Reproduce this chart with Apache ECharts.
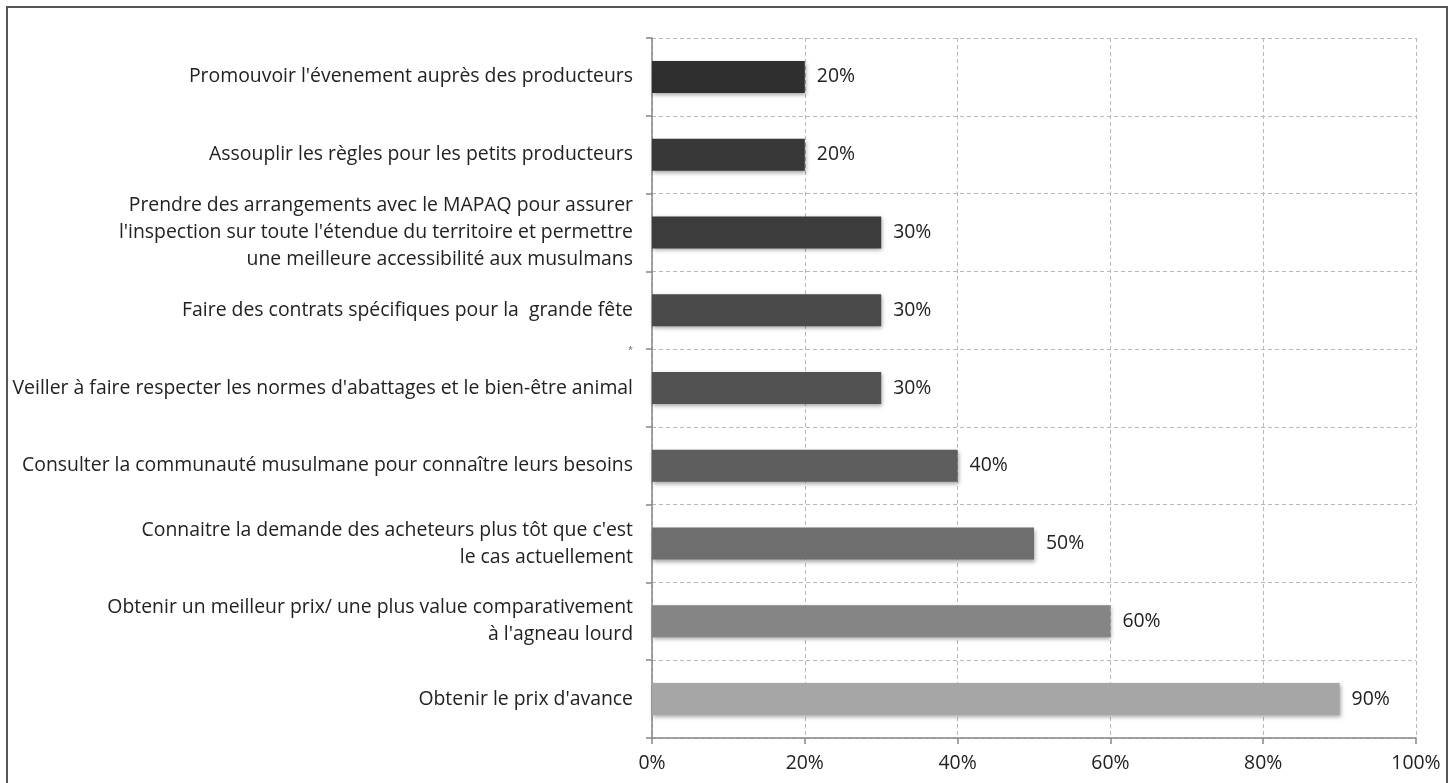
<!DOCTYPE html>
<html>
<head>
<meta charset="utf-8">
<script src="https://cdn.jsdelivr.net/npm/echarts@6/dist/echarts.min.js"></script>
<style>
  html, body { margin: 0; padding: 0; background: #fff; }
  #chart { width: 1453px; height: 783px; }
</style>
</head>
<body>
<div id="chart"></div>
<script>
const categories = [
  "Promouvoir l'évenement auprès des producteurs",
  "Assouplir les règles pour les petits producteurs",
  "Prendre des arrangements avec le MAPAQ pour assurer\nl'inspection sur toute l'étendue du territoire et permettre\nune meilleure accessibilité aux musulmans",
  "Faire des contrats spécifiques pour la  grande fête",
  "Veiller à faire respecter les normes d'abattages et le bien-être animal",
  "Consulter la communauté musulmane pour connaître leurs besoins",
  "Connaitre la demande des acheteurs plus tôt que c'est\nle cas actuellement",
  "Obtenir un meilleur prix/ une plus value comparativement\nà l'agneau lourd",
  "Obtenir le prix d'avance"
];
const values = [20, 20, 30, 30, 30, 40, 50, 60, 90];
const barColors = ['#2f2f2f', '#383838', '#3c3c3c', '#4a4a4a', '#525252', '#5e5e5e', '#6e6e6e', '#858585', '#a6a6a6'];
const xTicks = [0, 20, 40, 60, 80, 100];

const FONT = "'Open Sans', sans-serif";
const FS = 19.4;
const chart = echarts.init(document.getElementById('chart'));
chart.setOption({
  animation: false,
  backgroundColor: '#fff',
  grid: { left: 652, right: 37, top: 38, bottom: 45, containLabel: false },
  xAxis: {
    type: 'value',
    min: xTicks[0],
    max: xTicks[xTicks.length - 1],
    interval: 20,
    axisLine: { show: true, lineStyle: { color: '#868686', width: 1.5 } },
    axisTick: { show: true, length: 6, lineStyle: { color: '#868686', width: 1.5 } },
    axisLabel: { formatter: '{value}%', color: '#222', fontFamily: FONT, fontSize: FS, margin: 16 },
    splitLine: { show: true, lineStyle: { color: '#b8b8b8', type: [4, 3], width: 1 } }
  },
  yAxis: {
    type: 'category',
    inverse: true,
    data: categories,
    axisLine: { show: true, lineStyle: { color: '#868686', width: 1.5 } },
    axisTick: { show: true, length: 6, lineStyle: { color: '#868686', width: 1.5 } },
    axisLabel: { color: '#222', fontFamily: FONT, fontSize: FS, margin: 19, lineHeight: 27, align: 'right' },
    splitLine: { show: true, lineStyle: { color: '#b8b8b8', type: [4, 3], width: 1 } }
  },
  series: [{
    type: 'bar',
    data: values.map((v, i) => ({ value: v, itemStyle: { color: barColors[i] } })),
    barWidth: 32,
    itemStyle: { shadowColor: 'rgba(0,0,0,0.35)', shadowBlur: 4, shadowOffsetY: 2, shadowOffsetX: 1 },
    label: { show: true, position: 'right', distance: 12, formatter: '{c}%', color: '#222', fontFamily: FONT, fontSize: FS }
  }],
  graphic: [
    { type: 'rect', shape: { x: 7, y: 7, width: 1440, height: 790 }, style: { fill: 'none', stroke: '#555', lineWidth: 2 }, silent: true },
    { type: 'text', left: 628, top: 346, style: { text: '*', fontSize: 9, fill: '#666', fontFamily: FONT } }
  ]
});
</script>
</body>
</html>
